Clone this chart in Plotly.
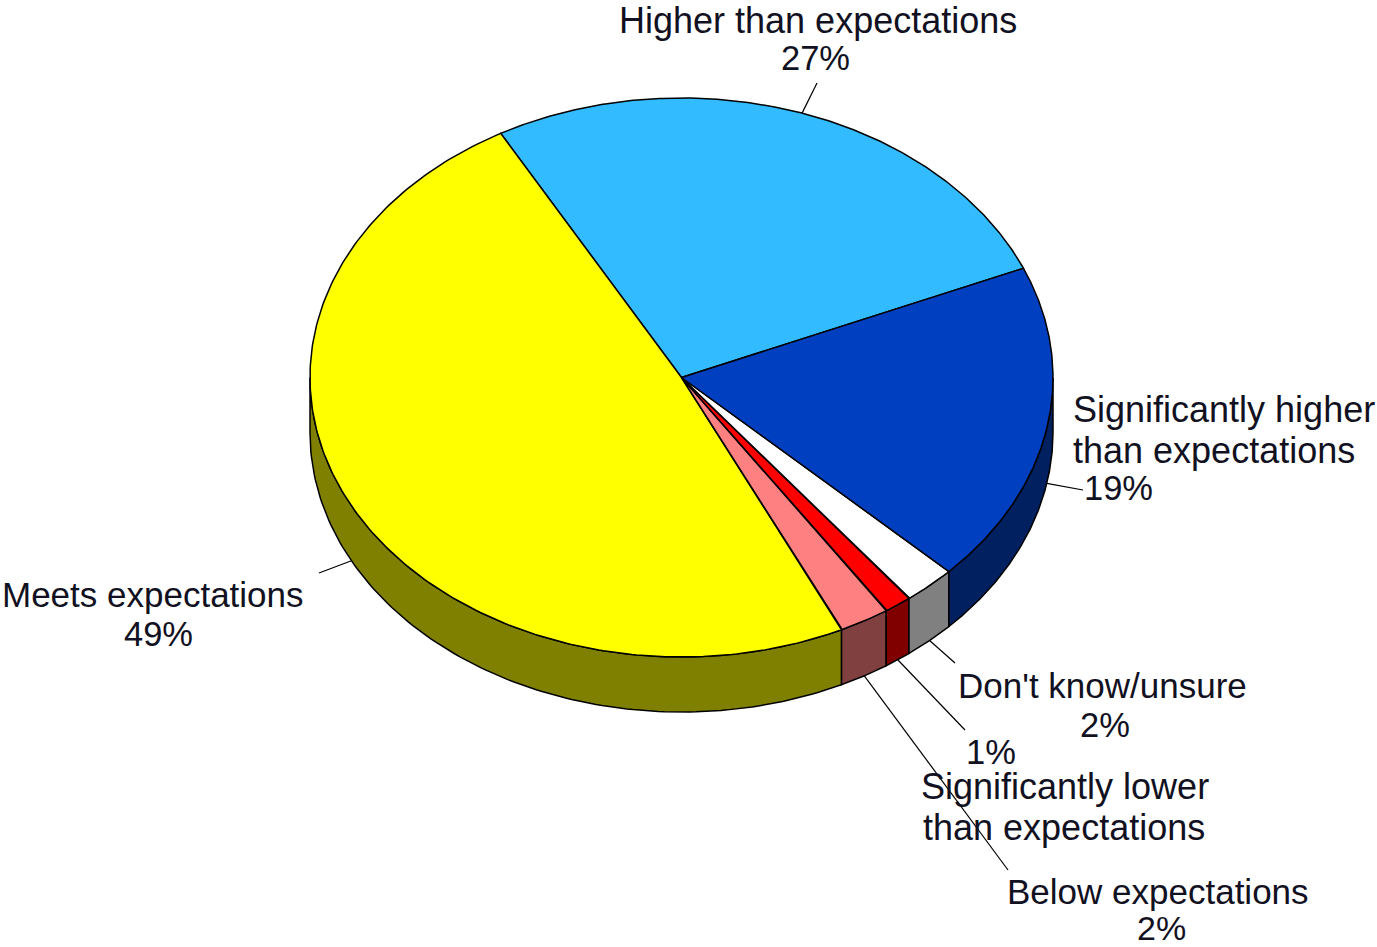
import numpy as np
import plotly.graph_objects as go

# Data, in drawing order, counter-clockwise from the first slice edge
categories = ["Higher than expectations", "Meets expectations", "Below expectations",
              "Significantly lower than expectations", "Don't know/unsure",
              "Significantly higher than expectations"]
values = [26.7, 49.0, 2.2, 1.2, 2.3, 18.6]
percent_labels = ["27%", "49%", "2%", "1%", "2%", "19%"]

# Styling
top_colors = ["#33BBFF", "#FFFF00", "#FF8080", "#FF0000", "#FFFFFF", "#0040C0"]
side_colors = ["#1A5E80", "#808000", "#804040", "#800000", "#808080", "#002060"]

# Layout (pixels of the 1377x947 page): text, x, y, font size
CX, CY, RX, RY, DEPTH = 681.5, 377.5, 371.5, 279.5, 55
START_ANGLE = 23.0
label_lines = [
    [("Higher than expectations", 818, 20, 36), (percent_labels[0], 815, 58, 34.5)],
    [("Meets expectations", 153, 594, 35), (percent_labels[1], 158, 634, 34.5)],
    [("Below expectations", 1158, 891, 35), (percent_labels[2], 1161, 928, 34)],
    [("Significantly lower", 1065, 786, 36), ("than expectations", 1064, 827, 36),
     (percent_labels[3], 991, 752, 34.5)],
    [("Don't know/unsure", 1102, 685, 35), (percent_labels[4], 1105, 725, 34.5)],
    [("Significantly higher", 1224, 409, 36), ("than expectations", 1214, 450, 36),
     (percent_labels[5], 1118, 488, 34.5)],
]
leader_ends = [(817, 83), (319, 573), (1008, 870), (965, 730), (955, 663), (1083, 490)]

def ex(t):
    return CX + RX * np.cos(np.radians(t))

def ey(t, drop=0):
    return CY - RY * np.sin(np.radians(t)) + drop

fig = go.Figure()
line = dict(color="black", width=1.5)
edges = START_ANGLE + np.concatenate([[0], np.cumsum(values)]) * 3.6

def add_poly(xs, ys, color):
    fig.add_trace(go.Scatter(x=xs, y=ys, mode="lines", fill="toself", fillcolor=color,
                             line=line, hoverinfo="skip", showlegend=False))

# Side walls: only the front half of the rim (180-360 and 540-720 degrees) is visible
for i in range(len(values)):
    for lo, hi in ((180, 360), (540, 720)):
        a, b = max(edges[i], lo), min(edges[i + 1], hi)
        if b > a:
            t = np.linspace(a, b, 120)
            xs = np.concatenate([ex(t), ex(t[::-1]), [ex(t[0])]])
            ys = np.concatenate([ey(t), ey(t[::-1], DEPTH), [ey(t[0])]])
            add_poly(xs, ys, side_colors[i])

# Top face
for i in range(len(values)):
    t = np.linspace(edges[i], edges[i + 1], 240)
    xs = np.concatenate([[CX], ex(t), [CX]])
    ys = np.concatenate([[CY], ey(t), [CY]])
    add_poly(xs, ys, top_colors[i])

# Leader lines start at each slice's mid-angle on the outer rim
for i in range(len(values)):
    mid = (edges[i] + edges[i + 1]) / 2
    drop = DEPTH if np.sin(np.radians(mid)) < 0 else 0
    fig.add_trace(go.Scatter(x=[ex(mid), leader_ends[i][0]], y=[ey(mid, drop), leader_ends[i][1]],
                             mode="lines", line=dict(color="black", width=1.2),
                             hoverinfo="skip", showlegend=False))

annotations = []
for lines in label_lines:
    for text, x, y, size in lines:
        annotations.append(dict(x=x, y=y, xref="x", yref="y", text=text, showarrow=False,
                                xanchor="center", yanchor="middle",
                                font=dict(family="Liberation Sans", size=size, color="#111122")))

fig.update_layout(
    width=1377, height=947, margin=dict(l=0, r=0, t=0, b=0),
    paper_bgcolor="white", plot_bgcolor="white", showlegend=False,
    xaxis=dict(range=[0, 1377], visible=False, fixedrange=True),
    yaxis=dict(range=[947, 0], visible=False, fixedrange=True),
    annotations=annotations,
)
fig.write_html("out.html", config={"displayModeBar": False},
               post_script="document.body.style.margin='0';document.body.style.overflow='hidden';")
